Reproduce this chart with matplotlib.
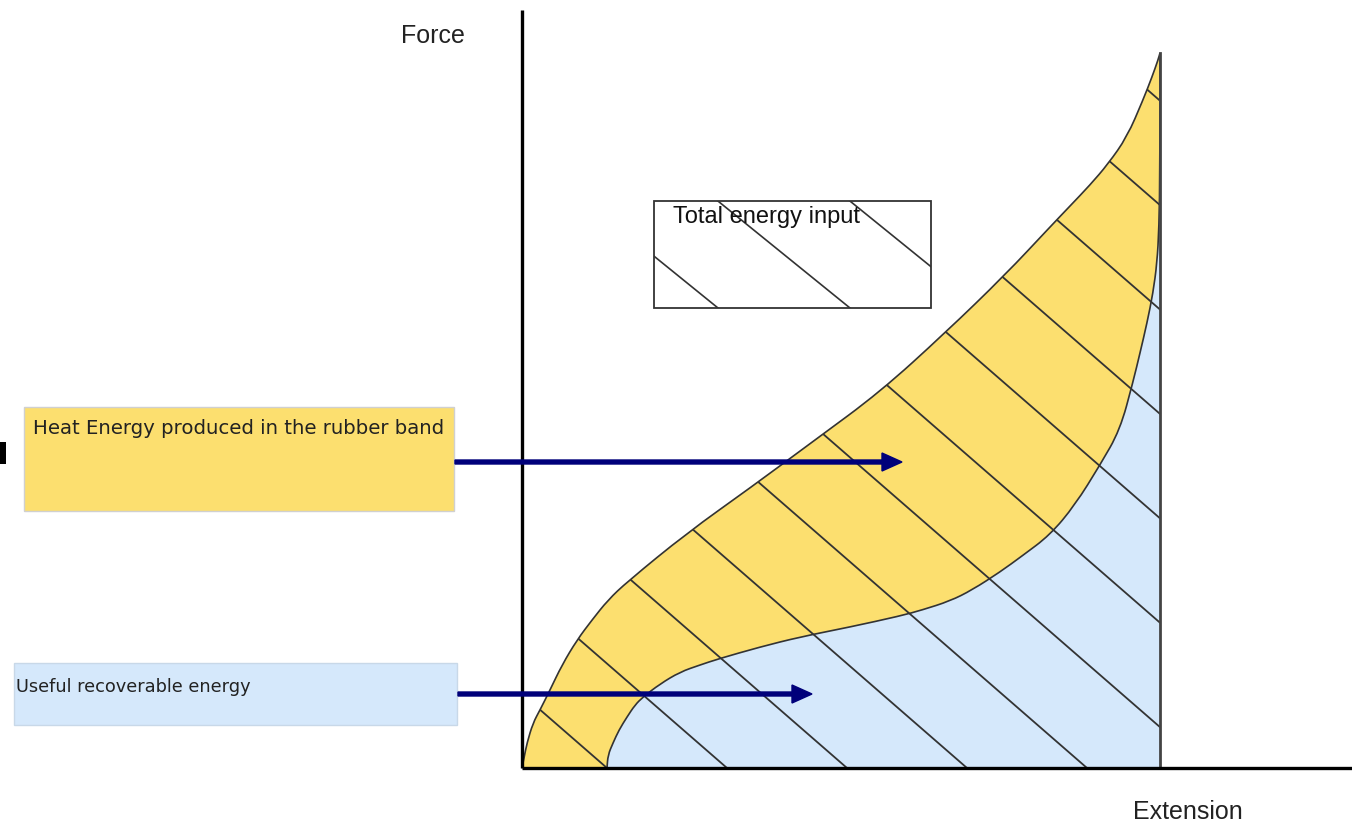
import numpy as np
import matplotlib
matplotlib.use("Agg")
import matplotlib.pyplot as plt
from matplotlib.patches import Rectangle, FancyArrow, PathPatch
from matplotlib.path import Path

plt.rcParams['font.family'] = ['Liberation Sans', 'DejaVu Sans']

# Кривая нагружения (растяжение -> сила)
loading_ext = [0, 2, 5, 11, 18, 28, 40, 55, 70, 86, 105, 165, 228, 293, 358, 423, 483,
               528, 548, 568, 586, 605, 621, 630, 636, 638]
loading_force = [0, 10, 25, 45, 58, 78, 103, 128, 148, 168, 186, 235, 280, 328, 376, 435, 493,
                 541, 562, 583, 604, 631, 668, 691, 708, 715]

# Кривая разгрузки (от вершины обратно к оси)
unloading_ext = [638, 638, 637, 635, 631, 625, 618, 611, 598, 578, 553, 528, 500, 478, 450, 428,
                 400, 378, 328, 278, 238, 196, 178, 158, 138, 121, 113, 105, 97, 91, 86, 85]
unloading_force = [715, 600, 540, 505, 475, 445, 415, 386, 338, 303, 263, 233, 212, 196, 178, 167,
                   158, 152, 141, 131, 121, 109, 103, 96, 84, 71, 63, 51, 38, 25, 13, 0]

# Подписи
axis_labels = ["Force", "Extension"]
heat_label = "Heat Energy produced in the rubber band"
useful_label = "Useful recoverable energy"
total_label = "Total energy input"

yellow = "#FCDF6F"
blue = "#D5E8FB"
navy = "#00007A"
edge = "#333333"


def smooth(ext, force):
    # гладкая кривая через точки: квадратичные сегменты Безье (средствами Path)
    pts = np.column_stack([ext, force]).astype(float)
    verts = [pts[0]]
    codes = []
    for i in range(1, len(pts) - 1):
        verts += [pts[i], (pts[i] + pts[i + 1]) / 2]
        codes += [Path.CURVE3, Path.CURVE3]
    verts.append(pts[-1])
    codes.append(Path.LINETO)
    return verts, codes


fig = plt.figure(figsize=(13.52, 8.23), dpi=100)
ax = fig.add_axes([0, 0, 1, 1])
ax.set_xlim(-522, 830)
ax.set_ylim(-55, 768)
ax.axis("off")

lv, lc = smooth(loading_ext, loading_force)
uv, uc = smooth(unloading_ext, unloading_force)
x_max = loading_ext[-1]
f_max = loading_force[-1]

# жёлтая область - между кривыми (тепло)
heat_path = Path(lv + uv[1:] + [lv[0]], [Path.MOVETO] + lc + uc + [Path.CLOSEPOLY])
ax.add_patch(PathPatch(heat_path, facecolor=yellow, edgecolor="none", zorder=1))

# голубая область - под кривой разгрузки (полезная энергия)
useful_path = Path(uv + [(x_max, 0), uv[0]], [Path.MOVETO] + uc + [Path.LINETO, Path.CLOSEPOLY])
ax.add_patch(PathPatch(useful_path, facecolor=blue, edgecolor="none", zorder=1))

# штриховка всей площади под кривой нагружения
total_path = Path(lv + [(x_max, 0), lv[0]], [Path.MOVETO] + lc + [Path.LINETO, Path.CLOSEPOLY])
total_patch = PathPatch(total_path, facecolor="none", edgecolor="none", zorder=2)
ax.add_patch(total_patch)
slope = 0.87
for x0 in np.arange(85, 85 + 120 * 12, 120):
    xs = np.array([x0 - 900, x0])
    ln, = ax.plot(xs, (x0 - xs) * slope, color=edge, lw=1.3, zorder=3)
    ln.set_clip_path(total_patch)

# контуры кривых и вертикальная линия
ax.add_patch(PathPatch(Path(lv, [Path.MOVETO] + lc), facecolor="none", edgecolor=edge, lw=1.2, zorder=4))
ax.add_patch(PathPatch(Path(uv, [Path.MOVETO] + uc), facecolor="none", edgecolor=edge, lw=1.2, zorder=4))
ax.plot([x_max, x_max], [0, f_max], color="#444444", lw=2, zorder=4)

# оси
ax.plot([0, 0], [0, 758], color="black", lw=2.4, zorder=5, solid_capstyle="butt")
ax.plot([0, 830], [0, 0], color="black", lw=2.4, zorder=5, solid_capstyle="butt")
ax.text(-89, 732, axis_labels[0], fontsize=18, color="#222222", ha="center", va="center")
ax.text(666, -44, axis_labels[1], fontsize=18, color="#222222", ha="center", va="center")

# рамка "Total energy input" со штриховкой
box = Rectangle((132, 460), 277, 107, facecolor="white", edgecolor=edge, lw=1.3, zorder=2)
ax.add_patch(box)
for x0 in [196, 328, 460]:
    xs = np.array([x0 - 200, x0])
    ln, = ax.plot(xs, 460 + (x0 - xs) * 0.81, color=edge, lw=1.2, zorder=3)
    ln.set_clip_path(box)
ax.text(151, 551, total_label, fontsize=17, color="#111111", ha="left", va="center", zorder=4)

# подписи-блоки слева
ax.add_patch(Rectangle((-498, 257), 430, 104, facecolor=yellow, edgecolor="#D0D0D0", lw=1, zorder=2))
ax.text(-489, 340, heat_label, fontsize=14.2, family="DejaVu Sans", color="#222222",
        ha="left", va="center", zorder=3)
ax.add_patch(Rectangle((-508, 43), 443, 62, facecolor=blue, edgecolor="#C8D8E8", lw=1, zorder=2))
ax.text(-506, 81, useful_label, fontsize=12.8, family="DejaVu Sans", color="#222222",
        ha="left", va="center", zorder=3)
ax.add_patch(Rectangle((-522, 304), 6, 22, facecolor="black", edgecolor="none", zorder=2))

# стрелки
ax.add_patch(FancyArrow(-67, 306, 447, 0, width=4, head_width=18, head_length=20,
                        length_includes_head=True, color=navy, zorder=6))
ax.add_patch(FancyArrow(-64, 74, 354, 0, width=4, head_width=18, head_length=20,
                        length_includes_head=True, color=navy, zorder=6))

fig.savefig("out.png", dpi=100)
